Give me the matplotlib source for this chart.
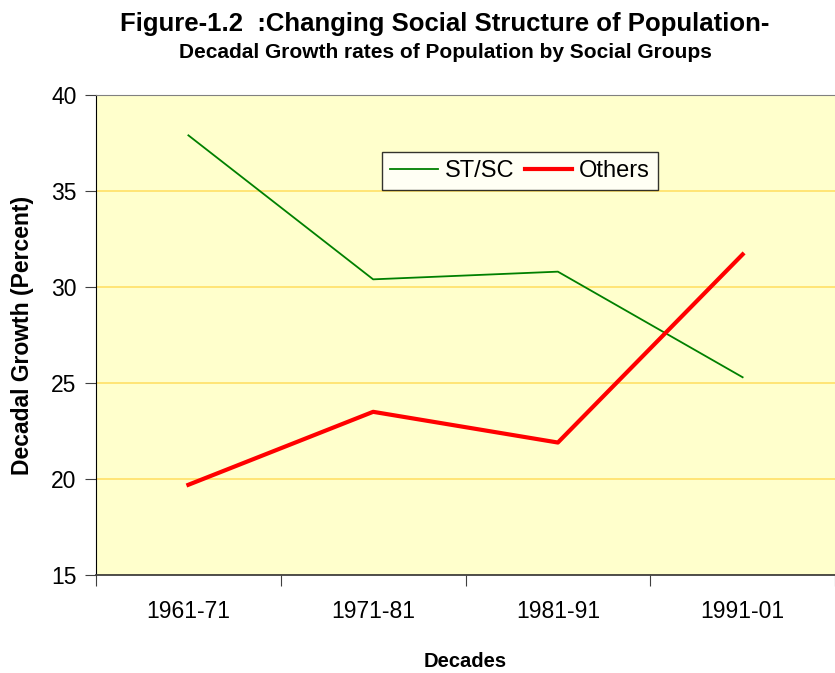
import matplotlib.pyplot as plt
import numpy as np

# Dane
dekady = ['1961-71', '1971-81', '1981-91', '1991-01']
st_sc = [37.9, 30.4, 30.8, 25.3]
pozostali = [19.7, 23.5, 21.9, 31.7]
y_ticks = [15, 20, 25, 30, 35, 40]

plt.rcParams['font.family'] = ['Liberation Sans', 'DejaVu Sans']

fig = plt.figure(figsize=(8.35, 6.73), dpi=100)
ax = fig.add_axes([0.115, 0.1456, 0.885, 0.7132])
ax.set_facecolor('#FFFFCC')

x = np.arange(len(dekady))
ax.plot(x, st_sc, color='#008000', lw=1.3, label='ST/SC')
ax.plot(x, pozostali, color='#FF0000', lw=3, label='Others')

ax.set_xlim(-0.5, len(dekady) - 0.5)
ax.set_ylim(15, 40)
ax.set_yticks(y_ticks)
ax.set_yticklabels([str(t) for t in y_ticks], fontsize=16.5)
ax.grid(axis='y', color='#FFE066', lw=1.2)
ax.set_axisbelow(True)

# etykiety kategorii pomiedzy kreskami
ax.set_xticks(np.arange(len(dekady) + 1) - 0.5)
ax.set_xticklabels([])
ax.set_xticks(x, minor=True)
ax.set_xticklabels(dekady, minor=True, fontsize=16.5)
ax.tick_params(axis='x', which='minor', length=0, pad=18)
ax.tick_params(axis='x', which='major', length=8, color='#404040')
ax.tick_params(axis='y', length=8, color='#404040', pad=6)

ax.spines['top'].set_color('#808080')
ax.spines['right'].set_visible(False)
ax.spines['left'].set_color('black')
ax.spines['bottom'].set_color('#404040')
ax.spines['bottom'].set_linewidth(1.3)

ax.set_ylabel('Decadal Growth (Percent)', fontsize=16.5, fontweight='bold', va='center')
ax.yaxis.set_label_coords(-0.099, 0.5)
ax.set_xlabel('Decades', fontsize=14.5, fontweight='bold', va='center')
ax.xaxis.set_label_coords(0.5, -0.181)

leg = ax.legend(loc='center', bbox_to_anchor=(0.574, 0.842), ncol=2, fontsize=17,
                frameon=True, fancybox=False, edgecolor='black', handlelength=2.0,
                handletextpad=0.3, columnspacing=0.45, borderpad=0.35)
leg.get_frame().set_linewidth(1)

fig.text(0.533, 0.965, 'Figure-1.2  :Changing Social Structure of Population-',
         ha='center', va='center', fontsize=18.5, fontweight='bold')
fig.text(0.533, 0.922, 'Decadal Growth rates of Population by Social Groups',
         ha='center', va='center', fontsize=15, fontweight='bold')

fig.savefig('out.png', dpi=100)
